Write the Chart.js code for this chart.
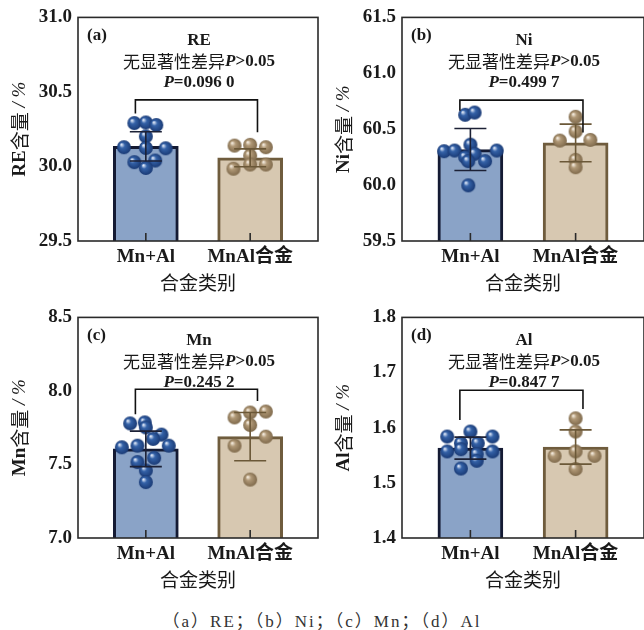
<!DOCTYPE html>
<html lang="zh">
<head>
<meta charset="UTF-8">
<title>合金成分对比</title>
<script src="https://cdn.jsdelivr.net/npm/chart.js"></script>
<style>
  body { margin: 0; background: #fff; overflow: hidden; }
  #wrap { position: relative; width: 644px; height: 630px; overflow: hidden; }
  #wrap canvas { position: absolute; }
  #caption {
    position: absolute; left: 0; top: 607px; width: 644px;
    text-align: center; line-height: 20px; color: #333; letter-spacing: 2px;
    font: 17px 'Liberation Serif', 'Noto Sans CJK SC', serif;
  }
</style>
</head>
<body>
<div id="wrap">
  <canvas id="chartA" width="326" height="300" style="left:0;top:0"></canvas>
  <canvas id="chartB" width="330" height="300" style="left:322px;top:0"></canvas>
  <canvas id="chartC" width="326" height="300" style="left:0;top:300px"></canvas>
  <canvas id="chartD" width="330" height="300" style="left:322px;top:300px"></canvas>
  <div id="caption">（a）RE；（b）Ni；（c）Mn；（d）Al</div>
</div>

<script>
  // ---- data ----
  const groups = ['Mn+Al', 'MnAl合金'];
  const elements = ['RE', 'Ni', 'Mn', 'Al'];
  const tags = ['(a)', '(b)', '(c)', '(d)'];
  const pValues = ['0.096 0', '0.499 7', '0.245 2', '0.847 7'];

  const yTicks = [
    [29.5, 30.0, 30.5, 31.0],
    [59.5, 60.0, 60.5, 61.0, 61.5],
    [7.0, 7.5, 8.0, 8.5],
    [1.4, 1.5, 1.6, 1.7, 1.8]
  ];

  // bar height (mean) and error bar (sd)
  const meanMnAl = [30.135, 60.318, 7.606, 1.563];
  const meanAlloy = [30.058, 60.377, 7.689, 1.565];
  const sdMnAl = [0.098, 0.188, 0.121, 0.020];
  const sdAlloy = [0.060, 0.168, 0.164, 0.031];

  // individual samples
  const ptsMnAl = [
    [30.291, 30.295, 30.278, 30.202, 30.129, 30.124, 30.122, 30.029, 30.040, 29.990],
    [60.629, 60.649, 60.303, 60.309, 60.362, 60.309, 60.280, 60.250, 60.214, 60.214, 59.998],
    [7.779, 7.786, 7.752, 7.703, 7.674, 7.628, 7.617, 7.628, 7.545, 7.516, 7.459, 7.380],
    [1.584, 1.593, 1.584, 1.572, 1.572, 1.557, 1.561, 1.557, 1.552, 1.540, 1.526]
  ];
  const jitMnAl = [
    [-0.11, 0, 0.10, 0, -0.21, 0, 0.19, -0.11, 0.09, 0],
    [-0.05, 0.04, -0.25, -0.15, 0, 0.25, 0.04, -0.05, -0.02, 0.14, -0.02],
    [-0.15, -0.01, 0, 0.15, 0.07, 0.22, -0.23, -0.08, 0.08, -0.08, 0, 0],
    [-0.22, 0, 0.21, -0.09, 0.07, -0.22, -0.09, 0.21, 0.06, 0.06, -0.09]
  ];
  const ptsAlloy = [
    [30.140, 30.145, 30.129, 30.073, 29.985, 30.013, 30.013],
    [60.611, 60.480, 60.398, 60.404, 60.226, 60.160],
    [7.853, 7.860, 7.820, 7.768, 7.689, 7.628, 7.397],
    [1.617, 1.593, 1.557, 1.549, 1.549, 1.525]
  ];
  const jitAlloy = [
    [-0.15, 0, 0.15, 0, -0.16, 0, 0.15],
    [0, 0, -0.15, 0.14, 0, 0],
    [0, 0.15, -0.15, 0, 0.15, -0.15, 0],
    [0, 0, 0, -0.2, 0.18, 0]
  ];

  // significance bracket: top, left leg end, right leg end
  const bracketTop = [30.447, 60.760, 8.011, 1.668];
  const bracketLeft = [30.355, 60.664, 7.842, 1.614];
  const bracketRight = [30.229, 60.471, 7.932, 1.634];
  const bracketX = [-0.1, 1.07];

  // ---- layout / style ----
  const layouts = [
    { id: 'chartA', w: 326, h: 300, left: 78, top: 16, right: 323, bottom: 241 },
    { id: 'chartB', w: 330, h: 300, left: 80, top: 16, right: 325, bottom: 241 },
    { id: 'chartC', w: 326, h: 300, left: 78, top: 16, right: 323, bottom: 238 },
    { id: 'chartD', w: 330, h: 300, left: 80, top: 15, right: 325, bottom: 238 }
  ];

  const SERIF = "'Liberation Serif', 'Times New Roman', serif";
  const CJK = "'Noto Sans CJK SC', sans-serif";
  const INK = '#1a1a1a';

  function makeSphere(light, base, dark) {
    const r = 7, c = document.createElement('canvas');
    c.width = c.height = 2 * r + 2;
    const g = c.getContext('2d');
    const cx = r + 1, cy = r + 1;
    const grad = g.createRadialGradient(cx - 2.6, cy - 2.8, 0.4, cx, cy, r);
    grad.addColorStop(0, light);
    grad.addColorStop(0.35, base);
    grad.addColorStop(1, dark);
    g.fillStyle = grad;
    g.beginPath();
    g.arc(cx, cy, r, 0, Math.PI * 2);
    g.fill();
    return c;
  }
  const sphereBlue = makeSphere('#e4ecfa', '#3462a8', '#1a3a75');
  const sphereTan = makeSphere('#f6eee2', '#b09876', '#7f6a4c');

  function drawRich(ctx, parts, x, y) {
    let w = 0;
    parts.forEach(p => { ctx.font = p[1]; w += ctx.measureText(p[0]).width; });
    let cx = x - w / 2;
    ctx.textAlign = 'left';
    ctx.textBaseline = 'middle';
    parts.forEach(p => {
      ctx.font = p[1];
      ctx.fillText(p[0], cx, y);
      cx += ctx.measureText(p[0]).width;
    });
  }

  const decor = {
    id: 'decor',
    afterDatasetsDraw(chart, args, opts) {
      const i = opts.index;
      const { ctx, chartArea: a } = chart;
      const x = chart.scales.x, y = chart.scales.y;
      ctx.save();

      // error bars
      [[meanMnAl, sdMnAl, '#1c2136'], [meanAlloy, sdAlloy, '#6b5838']].forEach(([m, s, col], k) => {
        const px = x.getPixelForValue(k);
        const t = y.getPixelForValue(m[i] + s[i]);
        const b = y.getPixelForValue(m[i] - s[i]);
        ctx.strokeStyle = col;
        ctx.lineWidth = 1.6;
        ctx.beginPath();
        ctx.moveTo(px, t); ctx.lineTo(px, b);
        ctx.moveTo(px - 16, t); ctx.lineTo(px + 16, t);
        ctx.moveTo(px - 16, b); ctx.lineTo(px + 16, b);
        ctx.stroke();
      });

      // bracket
      const bx0 = x.getPixelForValue(bracketX[0]), bx1 = x.getPixelForValue(bracketX[1]);
      ctx.strokeStyle = '#111';
      ctx.lineWidth = 1.6;
      ctx.beginPath();
      ctx.moveTo(bx0, y.getPixelForValue(bracketLeft[i]));
      ctx.lineTo(bx0, y.getPixelForValue(bracketTop[i]));
      ctx.lineTo(bx1, y.getPixelForValue(bracketTop[i]));
      ctx.lineTo(bx1, y.getPixelForValue(bracketRight[i]));
      ctx.stroke();

      // frame + inner ticks
      ctx.strokeStyle = '#2a2a2a';
      ctx.lineWidth = 1.6;
      ctx.strokeRect(a.left, a.top, a.right - a.left, a.bottom - a.top);
      ctx.beginPath();
      groups.forEach((g, k) => {
        const px = x.getPixelForValue(k);
        ctx.moveTo(px, a.bottom);
        ctx.lineTo(px, a.bottom - 8);
      });
      ctx.stroke();

      // texts
      ctx.fillStyle = INK;
      ctx.font = `bold 17px ${SERIF}`;
      ctx.textAlign = 'left';
      ctx.textBaseline = 'middle';
      ctx.fillText(tags[i], a.left + 9, a.top + 18);

      const cx = (a.left + a.right) / 2 + 1;
      drawRich(ctx, [[elements[i], `bold 17px ${SERIF}`]], cx, a.top + 23);
      drawRich(ctx, [['无显著性差异', `17px ${CJK}`], ['P', `italic bold 17px ${SERIF}`], ['>0.05', `bold 17px ${SERIF}`]], cx, a.top + 44.5);
      drawRich(ctx, [['P', `italic bold 17px ${SERIF}`], ['=' + pValues[i], `bold 17px ${SERIF}`]], cx, a.top + 65);

      // axis titles
      drawRich(ctx, [['合金类别', `19px ${CJK}`]], cx - 1, a.bottom + 42);
      ctx.translate(a.left - 58, (a.top + a.bottom) / 2);
      ctx.rotate(-Math.PI / 2);
      drawRich(ctx, [[elements[i], `bold 19px ${SERIF}`], ['含量', `19px ${CJK}`], [' / ', `italic 19px ${SERIF}`], ['%', `italic 19px ${SERIF}`]], 0, 0);
      ctx.restore();
    }
  };

  function buildChart(i) {
    const L = layouts[i];
    const ticks = yTicks[i];
    new Chart(document.getElementById(L.id), {
      type: 'bar',
      data: {
        datasets: [
          {
            type: 'scatter',
            data: ptsMnAl[i].map((v, k) => ({ x: jitMnAl[i][k], y: v })),
            pointStyle: sphereBlue,
            pointRadius: 7,
            order: 1
          },
          {
            type: 'scatter',
            data: ptsAlloy[i].map((v, k) => ({ x: 1 + jitAlloy[i][k], y: v })),
            pointStyle: sphereTan,
            pointRadius: 7,
            order: 1
          },
          {
            type: 'bar',
            data: [{ x: 0, y: meanMnAl[i] }, { x: 1, y: meanAlloy[i] }],
            backgroundColor: ['#8aa3c7', '#d7c8b1'],
            borderColor: ['#141a33', '#6f5c3d'],
            borderWidth: 3,
            borderSkipped: 'bottom',
            barThickness: 65,
            order: 2
          }
        ]
      },
      options: {
        responsive: false,
        animation: false,
        events: [],
        layout: { padding: { top: L.top, right: L.w - L.right, left: 0, bottom: 0 } },
        plugins: {
          legend: { display: false },
          tooltip: { enabled: false },
          decor: { index: i }
        },
        scales: {
          x: {
            type: 'linear',
            min: -0.65,
            max: 1.65,
            offset: false,
            grid: { display: false, drawTicks: false, offset: false },
            border: { display: false },
            afterBuildTicks: s => { s.ticks = groups.map((g, k) => ({ value: k })); },
            afterFit: s => { s.height = L.h - L.bottom; },
            ticks: {
              callback: v => groups[v],
              font: { family: "'Liberation Serif', 'Noto Sans CJK SC', serif", size: 19, weight: 'bold' },
              color: INK,
              padding: 5,
              maxRotation: 0,
              autoSkip: false
            }
          },
          y: {
            min: ticks[0],
            max: ticks[ticks.length - 1],
            grid: { display: false, drawTicks: false },
            border: { display: false },
            afterBuildTicks: s => { s.ticks = ticks.map(v => ({ value: v })); },
            afterFit: s => { s.width = L.left; },
            ticks: {
              callback: v => v.toFixed(1),
              font: { family: SERIF, size: 19, weight: 'bold' },
              color: INK,
              padding: 6
            }
          }
        }
      },
      plugins: [decor]
    });
  }

  elements.forEach((e, i) => buildChart(i));
</script>
</body>
</html>
